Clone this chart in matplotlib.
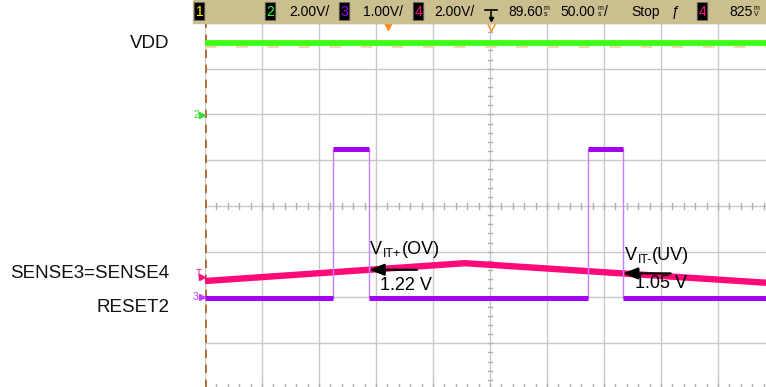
import numpy as np
import matplotlib.pyplot as plt
from matplotlib.patches import Rectangle, FancyBboxPatch
from matplotlib.lines import Line2D

plt.rcParams['font.family'] = ['Liberation Sans', 'DejaVu Sans']

W, H = 766, 387

# screen: time in ms relative to trigger (50 ms/div), level in divisions
t_per_div = 50.0
vdd_t = [-250, 250]
vdd_div = [3.56, 3.56]

sense_t = [-250, -22, 250]
sense_div = [-1.64, -1.25, -1.69]

reset_edges = [-250, -137.5, -106, 86, 116.5, 250]
reset_state = [0, 1, 0, 1, 0]
reset_low, reset_high = -2.01, 1.25

ov_parts, ov_value = ("V", "IT+", "(OV)"), "1.22 V"
uv_parts, uv_value = ("V", "IT-", "(UV)"), "1.05 V"

# header readout
head_items = [("2", "#33ff33", 266, "2.00V/", 289),
              ("3", "#a000ff", 340, "1.00V/", 363),
              ("4", "#ff1080", 414, "2.00V/", 434)]


def fx(px):
    return px / W


def fy(py):
    return 1 - py / H


fig = plt.figure(figsize=(W / 100, H / 100), dpi=100)
ax = fig.add_axes([fx(205), fy(389), 570 / W, 366 / H])
ax.set_xlim(-250, 250)
ax.set_ylim(-4, 4)
ax.set_xticks(np.arange(-250, 251, t_per_div))
ax.set_yticks(np.arange(-4, 5, 1))
ax.grid(True, color='#c8c8c8', lw=1)
ax.tick_params(length=0, labelbottom=False, labelleft=False)
for s in ax.spines.values():
    s.set_visible(False)

# minor ticks on the centre lines
for xt in np.arange(-250, 251, 10):
    ax.plot([xt, xt], [-0.07, 0.07], color='#b0b0b0', lw=1)
    ax.plot([xt, xt], [-4, -3.88], color='#b0b0b0', lw=1)
for yt in np.arange(-4, 4.01, 0.2):
    ax.plot([-2, 2], [yt, yt], color='#b0b0b0', lw=1)

# left edge (channel 1 marker line)
ax.plot([-249.5, -249.5], [-4, 4], color='#b05a1a', lw=1.2, ls=(0, (5, 4)))

# faint channel 1 trace under VDD
ax.plot([-250, 250], [3.47, 3.47], color='#f8d4b0', lw=1.4, ls=(0, (6, 10)))

# traces
ax.plot(vdd_t, vdd_div, color='#3cff14', lw=4.2, solid_capstyle='butt')
ax.plot(sense_t, sense_div, color='#ff0a78', lw=4.6, solid_capstyle='butt')

rt = [reset_edges[0]]
rv = [reset_low if reset_state[0] == 0 else reset_high]
for i, st in enumerate(reset_state):
    lev = reset_high if st else reset_low
    if i > 0:
        rt.append(reset_edges[i])
        rv.append(lev)
    rt.append(reset_edges[i + 1])
    rv.append(lev)
ax.plot(rt, rv, color='#c77dff', lw=1.0)
for i, st in enumerate(reset_state):
    lev = reset_high if st else reset_low
    ax.plot([reset_edges[i], reset_edges[i + 1]], [lev, lev],
            color='#a300f5', lw=3.6, solid_capstyle='butt')

fig.canvas.draw()
rend = fig.canvas.get_renderer()


def sub_label(px, py, parts):
    # V + subscript + (..) written as three pieces
    t = fig.text(fx(px), fy(py), parts[0], fontsize=13, va='center')
    x1 = t.get_window_extent(rend).x1
    t = fig.text(x1 / W + 0.5 / W, fy(py + 5), parts[1], fontsize=9, va='center')
    x2 = t.get_window_extent(rend).x1
    fig.text(x2 / W + 0.5 / W, fy(py), parts[2], fontsize=13, va='center')


# threshold annotations at the RESET2 pulse ends
for x_tip, parts, val, lx, ly, vx, vy in [
        (reset_edges[2], ov_parts, ov_value, 370, 249, 380, 285),
        (reset_edges[4], uv_parts, uv_value, 625, 255, 635, 284)]:
    y_tip = np.interp(x_tip, sense_t, sense_div)
    ax.annotate('', xy=(x_tip, y_tip), xytext=(x_tip + 42, y_tip),
                arrowprops=dict(arrowstyle='-|>,head_length=0.9,head_width=0.35',
                                color='black', lw=1.6, shrinkA=0, shrinkB=0))
    sub_label(lx, ly, parts)
    fig.text(fx(vx), fy(vy), val, fontsize=13, va='center', ha='left')

# trace names
for name, py in [("VDD", 43), ("SENSE3=SENSE4", 273), ("RESET2", 308)]:
    fig.text(fx(169), fy(py), name, fontsize=13.5, ha='right', va='center',
             color='#111111')

# channel markers at the left edge
fig.text(fx(193), fy(115), "2", fontsize=7.5, color='#33dd33', va='center')
fig.text(fx(196), fy(274), "T", fontsize=7, color='#ff1080', va='center')
fig.text(fx(193), fy(297), "3", fontsize=7.5, color='#c040ff', va='center')
for py, c in [(115, '#33dd33'), (277, '#ff1080'), (297, '#c040ff')]:
    fig.add_artist(Line2D([fx(202)], [fy(py)], marker='>', ms=4, color=c,
                          transform=fig.transFigure))

# orange markers below the header
fig.add_artist(Line2D([fx(388)], [fy(25)], marker='v', ms=7, color='#ff8c1a',
                      transform=fig.transFigure))
fig.add_artist(Line2D([fx(491)], [fy(26)], marker='v', ms=7, mfc='none',
                      mec='#ff8c1a', transform=fig.transFigure))

# header bar
fig.add_artist(Rectangle((fx(193), fy(23)), fx(W - 193), 23 / H,
                         transform=fig.transFigure, color='#cbbf8f', zorder=5))


def chan_box(px, digit, col):
    fig.add_artist(FancyBboxPatch((fx(px), fy(20)), 9 / W, 17 / H,
                                  boxstyle='round,pad=0.001',
                                  transform=fig.transFigure, fc='black',
                                  ec='#666666', lw=0.6, zorder=6))
    fig.text(fx(px + 4.5), fy(11.5), digit, fontsize=10, color=col,
             ha='center', va='center', zorder=7)


chan_box(195, "1", '#ffff00')
for d, c, bx, txt, tx in head_items:
    chan_box(bx, d, c)
    fig.text(fx(tx), fy(12), txt, fontsize=10, va='center', zorder=7)
chan_box(698, "4", '#ff1080')

# trigger symbol
fig.add_artist(Line2D([fx(485), fx(497)], [fy(10), fy(10)], color='black',
                      lw=1.2, transform=fig.transFigure, zorder=7))
fig.add_artist(Line2D([fx(491), fx(491)], [fy(10), fy(18)], color='black',
                      lw=1.2, transform=fig.transFigure, zorder=7))
fig.add_artist(Line2D([fx(491)], [fy(19)], marker='v', ms=3, color='black',
                      transform=fig.transFigure, zorder=7))


def stacked(px, units):
    fig.text(fx(px), fy(11.5), units, fontsize=5, ha='center', va='center',
             linespacing=0.95, zorder=7)


fig.text(fx(508), fy(12), "89.60", fontsize=10, va='center', zorder=7)
stacked(546, "m\ns")
fig.text(fx(560), fy(12), "50.00", fontsize=10, va='center', zorder=7)
stacked(600, "m\ns")
fig.text(fx(604), fy(12), "/", fontsize=10, va='center', zorder=7)
fig.text(fx(631), fy(12), "Stop", fontsize=10, va='center', zorder=7)
fig.text(fx(672), fy(12), "ƒ", fontsize=10, va='center', zorder=7)
fig.text(fx(729), fy(12), "825", fontsize=10, va='center', zorder=7)
stacked(756, "m\nV")

fig.savefig("out.png", dpi=100)
